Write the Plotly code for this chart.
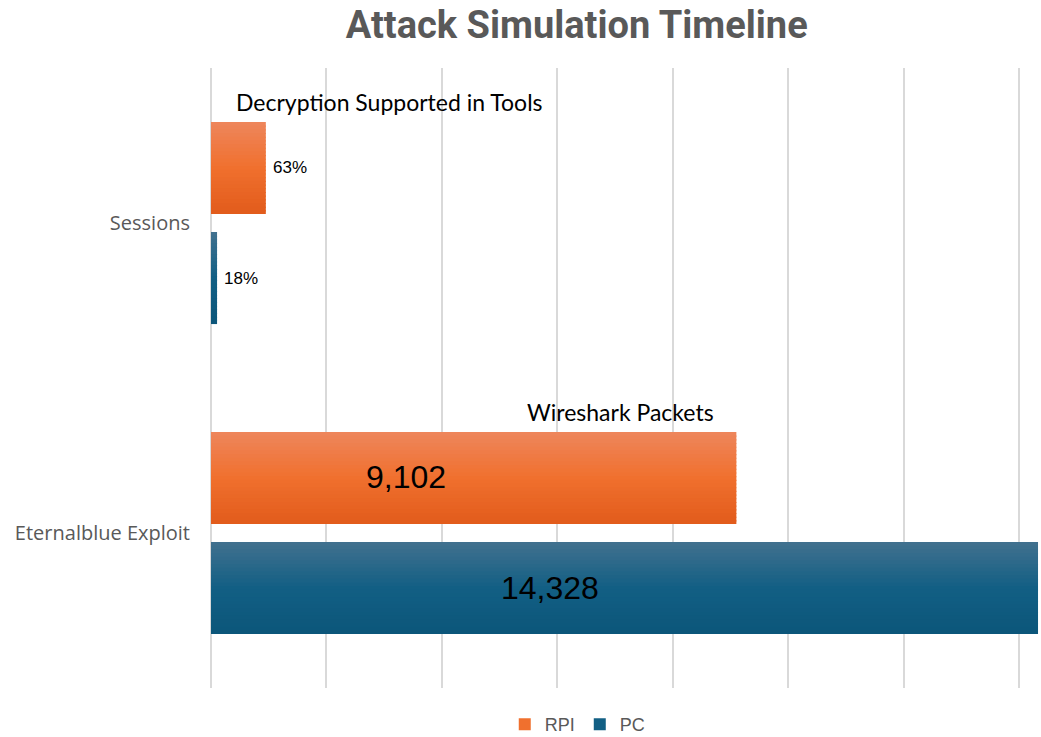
import plotly.graph_objects as go

categories = ["Sessions", "Eternalblue Exploit"]
rpi_values = [950, 9102]
pc_values = [105, 14328]
rpi_labels = ["63%", "9,102"]
pc_labels = ["18%", "14,328"]
series_names = ["RPI", "PC"]
callouts = ["Decryption Supported in Tools", "Wireshark Packets"]

# gradient stops (top, middle, bottom) for each series
ORANGE_STOPS = [(238, 133, 90), (240, 112, 46), (226, 92, 28)]
BLUE_STOPS = [(64, 112, 142), (18, 95, 132), (12, 86, 122)]
GRID = "#D9D9D9"

N_STRIPS = 25
BAR_W = 0.297          # bar thickness in category units
OFFSETS = [-0.326, 0.029]  # start offset of each series bar (reversed axis: negative = upper)
CENTER_SHIFT = [56, -55]   # pixel shift from category centre to bar centre


def lerp_color(stops, t):
    if t <= 0.5:
        a, b, u = stops[0], stops[1], t / 0.5
    else:
        a, b, u = stops[1], stops[2], (t - 0.5) / 0.5
    c = [round(a[i] + (b[i] - a[i]) * u) for i in range(3)]
    return "rgb(%d,%d,%d)" % tuple(c)


fig = go.Figure()

series = [
    (series_names[0], rpi_values, rpi_labels, ORANGE_STOPS, OFFSETS[0]),
    (series_names[1], pc_values, pc_labels, BLUE_STOPS, OFFSETS[1]),
]
step = BAR_W / N_STRIPS
mid = N_STRIPS // 2
for name, vals, labs, stops, off in series:
    for k in range(N_STRIPS):
        t = k / (N_STRIPS - 1)
        fig.add_trace(go.Bar(
            name=name, y=categories, x=vals, orientation="h",
            offset=off + k * step, width=step * 1.3 if k < N_STRIPS - 1 else step,
            marker=dict(color=lerp_color(stops, t), line=dict(width=0)),
            showlegend=(k == mid), legendgroup=name,
            hoverinfo="x+name",
        ))

annotations = []
label_frac = [0.371, 0.41]
for (name, vals, labs, stops, off), shift, frac in zip(series, CENTER_SHIFT, label_frac):
    for cat, v, lab in zip(categories, vals, labs):
        if v >= 2000:
            # big in-bar labels (placed left of centre, as in the original)
            annotations.append(dict(
                x=v * frac, y=cat, xref="x", yref="y", text=lab, showarrow=False,
                yshift=shift, font=dict(family="Liberation Sans, Arial", size=32, color="#000000"),
            ))
        else:
            # small bars: label just outside the bar end
            annotations.append(dict(
                x=v, y=cat, xref="x", yref="y", text=lab, showarrow=False,
                xanchor="left", xshift=5, yshift=shift,
                font=dict(family="Liberation Sans, Arial", size=17, color="#000000"),
            ))
# callout titles above the RPI bars
callout_x = [3100, 7090]
for cat, txt, cx in zip(categories, callouts, callout_x):
    annotations.append(dict(
        x=cx, y=cat, xref="x", yref="y", text=txt, showarrow=False, yshift=121,
        font=dict(family="Lato, Open Sans", size=23, color="#000000"),
    ))

fig.update_layout(
    width=1041, height=737,
    margin=dict(l=211, r=2, t=68, b=49),
    paper_bgcolor="white", plot_bgcolor="white",
    barmode="overlay",
    title=dict(text="<b>Attack Simulation Timeline</b>", x=0.554, xref="container",
               xanchor="center", y=0.966, yref="container", yanchor="middle",
               font=dict(family="Roboto", size=38, color="#595959")),
    xaxis=dict(range=[0, 14345], dtick=2000, tick0=0, showticklabels=False,
               showgrid=True, gridcolor=GRID, gridwidth=1.5,
               zeroline=True, zerolinecolor=GRID, zerolinewidth=1.5,
               showline=False, ticks=""),
    yaxis=dict(autorange="reversed", showgrid=False, zeroline=False, ticks="",
               ticklabelstandoff=20,
               tickfont=dict(family="Open Sans", size=20, color="#595959")),
    legend=dict(orientation="h", x=0.555, xref="container", xanchor="center",
                y=0.017, yref="container", yanchor="middle",
                font=dict(family="Liberation Sans, Arial", size=18, color="#595959"),
                traceorder="normal"),
    annotations=annotations,
    showlegend=True,
)

fig.write_html("out.html")
